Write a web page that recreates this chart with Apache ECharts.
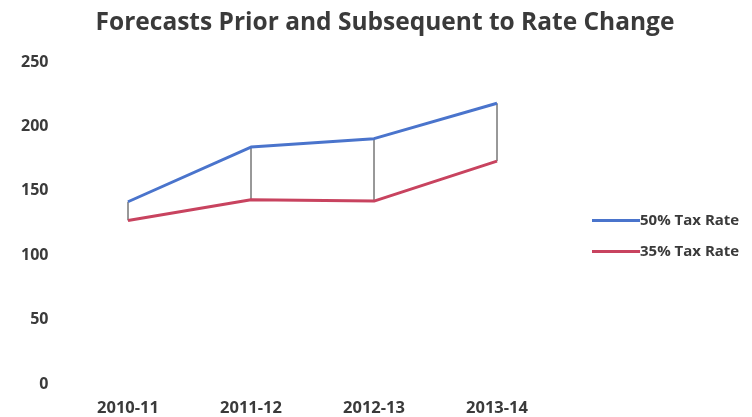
<!DOCTYPE html>
<html><head><meta charset="utf-8">
<script src="https://cdn.jsdelivr.net/npm/echarts@6/dist/echarts.min.js"></script>
<style>html,body{margin:0;padding:0;background:#fff}#c{width:752px;height:417px}</style>
</head><body><div id="c"></div>
<script>
var categories = ['2010-11', '2011-12', '2012-13', '2013-14'];
var rate50 = [141.5, 184, 190.5, 218];
var rate35 = [127, 143, 142, 173];
var yTicks = [0, 50, 100, 150, 200, 250];
var seriesNames = ['50% Tax Rate', '35% Tax Rate'];

var chart = echarts.init(document.getElementById('c'));
var font = '"Open Sans", "Noto Sans", sans-serif';
chart.setOption({
  animation: false,
  backgroundColor: '#fff',
  title: {
    text: 'Forecasts Prior and Subsequent to Rate Change',
    left: 380, top: 6, textAlign: 'center',
    textStyle: {fontFamily: font, fontSize: 24.5, fontWeight: 'bold', color: '#3a3a3a'}
  },
  legend: {
    orient: 'vertical', left: 587, top: 208, itemGap: 16,
    itemWidth: 48, itemHeight: 3,
    icon: 'rect',
    data: seriesNames,
    textStyle: {fontFamily: font, fontSize: 15, fontWeight: 'bold', color: '#3a3a3a', padding: [0,0,0,-5]}
  },
  grid: {left: 66.5, right: 193.5, top: 62, bottom: 33, containLabel: false},
  xAxis: {
    type: 'category', data: categories, boundaryGap: true,
    axisLine: {show: false}, axisTick: {show: false},
    axisLabel: {margin: 16, fontFamily: font, fontSize: 16.5, fontWeight: 'bold', color: '#3a3a3a'}
  },
  yAxis: {
    type: 'value', min: yTicks[0], max: yTicks[yTicks.length-1], interval: 50,
    splitLine: {show: false}, axisLine: {show: false}, axisTick: {show: false},
    axisLabel: {margin: 18, fontFamily: font, fontSize: 16, fontWeight: 'bold', color: '#3a3a3a'}
  },
  series: [
    {name: seriesNames[0], type: 'line', data: rate50, symbol: 'none',
     lineStyle: {color: '#4a74cc', width: 3}, itemStyle: {color: '#4a74cc'}, z: 3},
    {name: seriesNames[1], type: 'line', data: rate35, symbol: 'none',
     lineStyle: {color: '#c8435f', width: 3}, itemStyle: {color: '#c8435f'}, z: 3},
    {type: 'custom', silent: true, z: 2,
     data: categories.map(function(c, i){return [i, rate50[i], rate35[i]];}),
     renderItem: function(params, api){
       var a = api.coord([api.value(0), api.value(1)]);
       var b = api.coord([api.value(0), api.value(2)]);
       return {type: 'line', shape: {x1: a[0], y1: a[1], x2: b[0], y2: b[1]},
               style: {stroke: '#333', lineWidth: 1}};
     }}
  ]
});
</script></body></html>
